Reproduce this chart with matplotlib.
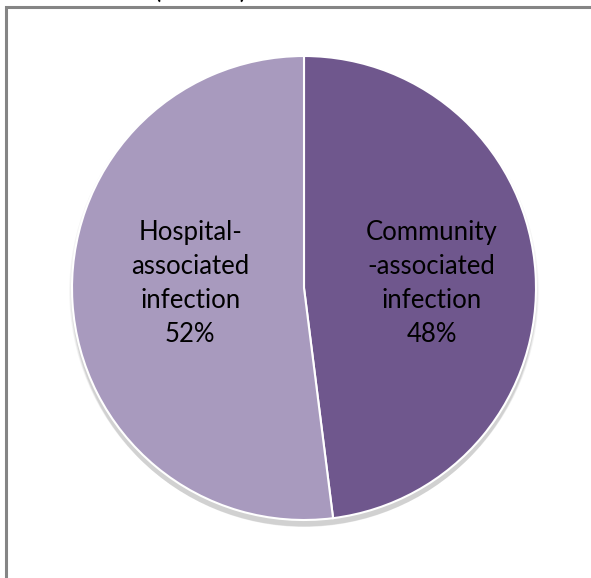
import matplotlib
matplotlib.use('Agg')
import matplotlib.pyplot as plt
from matplotlib.patches import Rectangle, Circle

# infection source shares (%)
labels = ['Community\n-associated\ninfection', 'Hospital-\nassociated\ninfection']
shares = [48, 52]
colors = ['#6f578d', '#a89abe']

plt.rcParams['font.family'] = ['Lato', 'DejaVu Sans']

fig = plt.figure(figsize=(5.91, 5.78), dpi=100)
fig.patch.set_facecolor('white')

# chart frame (only left and top edges fall inside the image)
frame = Rectangle((6 / 591, -0.1), 1.2, (578 - 7) / 578 + 0.1, transform=fig.transFigure,
                  fill=False, edgecolor='#858585', linewidth=2.2)
fig.patches.append(frame)

# title mostly above the visible area
fig.text(200 / 591, 1 - 3 / 578, '(n = 99)', ha='center', va='bottom',
         fontsize=20, color='black')

ax = fig.add_axes([(304 - 232) / 591, 1 - (288 + 232) / 578, 464 / 591, 464 / 578])

wedges, texts = ax.pie(
    shares, colors=colors, startangle=90, counterclock=False, radius=1.0,
    wedgeprops=dict(edgecolor='white', linewidth=1.5, zorder=2))

ax.set_xlim(-1, 1)
ax.set_ylim(-1, 1)
ax.set_aspect('equal')
ax.axis('off')

# soft drop shadow under the pie
for i, a in enumerate([0.04, 0.04, 0.05, 0.06]):
    ax.add_patch(Circle((0.0, -0.015 - 0.005 * i), 1.0 + 0.004 * (3 - i),
                        facecolor='black', alpha=a, edgecolor='none', zorder=0,
                        clip_on=False))

# in-slice labels with percentages
label_pos = [(0.55, 0.02), (-0.49, 0.02)]
for (x, y), lab, s in zip(label_pos, labels, shares):
    ax.text(x, y, f'{lab}\n{s}%', ha='center', va='center', fontsize=18.5,
            linespacing=1.45, color='black', zorder=3)

fig.savefig('out.png', dpi=100)
